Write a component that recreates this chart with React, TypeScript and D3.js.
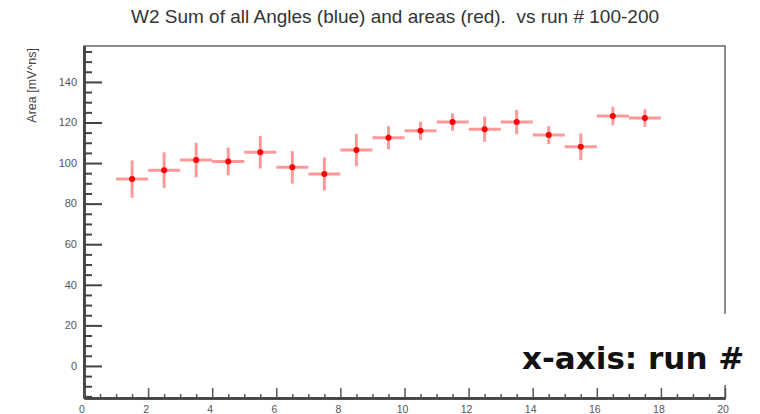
import React, { useEffect, useRef } from "react";
import * as d3 from "d3";

// bin centres (run # bins) and the measured areas with their errors
const runs = [1.5, 2.5, 3.5, 4.5, 5.5, 6.5, 7.5, 8.5, 9.5, 10.5, 11.5, 12.5, 13.5, 14.5, 15.5, 16.5, 17.5];
const areas = [92.1, 96.5, 101.5, 100.8, 105.3, 97.9, 94.6, 106.4, 112.5, 115.9, 120.2, 116.7, 120.2, 113.8, 108.0, 123.2, 122.2];
const areaErrors = [9.2, 8.8, 8.5, 6.8, 8.0, 8.0, 8.2, 8.0, 5.7, 4.5, 4.3, 6.2, 6.0, 4.4, 6.6, 4.6, 4.3];
const binHalfWidth = [0.5, 0.5, 0.5, 0.5, 0.5, 0.5, 0.5, 0.5, 0.5, 0.5, 0.5, 0.5, 0.5, 0.5, 0.5, 0.5, 0.5];

const xMajorTicks = [0, 2, 4, 6, 8, 10, 12, 14, 16, 18, 20];
const yMajorTicks = [0, 20, 40, 60, 80, 100, 120, 140];

const title = "W2 Sum of all Angles (blue) and areas (red).  vs run # 100-200";
const yTitle = "Area [mV^ns]";
const note = "x-axis: run #";

export default function App() {
  const svgRef = useRef<SVGSVGElement>(null);

  useEffect(() => {
    const width = 760;
    const height = 414;
    const frame = { left: 84, right: 725, top: 46, bottom: 398 };

    const svg = d3.select(svgRef.current);
    svg.selectAll("*").remove();

    const xScale = d3.scaleLinear().domain([0, 20]).range([frame.left, frame.right]);
    const yScale = d3.scaleLinear().domain([-15.8, 157.7]).range([frame.bottom, frame.top]);

    svg.append("rect").attr("width", width).attr("height", height).attr("fill", "white");

    // title
    svg
      .append("text")
      .attr("x", 395)
      .attr("y", 23)
      .attr("text-anchor", "middle")
      .style("white-space", "pre")
      .attr("font-family", "Liberation Sans, Arial, sans-serif")
      .attr("font-size", 19)
      .attr("fill", "#333")
      .text(title);

    // frame (top and right borders)
    svg
      .append("rect")
      .attr("x", frame.left)
      .attr("y", frame.top)
      .attr("width", frame.right - frame.left)
      .attr("height", frame.bottom - frame.top)
      .attr("fill", "none")
      .attr("stroke", "#666")
      .attr("stroke-width", 1.5);

    // y axis with ticks pointing into the frame
    const yMinor = d3.range(-15, 156, 5).filter((v) => v % 20 !== 0);
    const yAxis = d3
      .axisRight(yScale)
      .tickValues(yMajorTicks)
      .tickSize(18)
      .tickSizeOuter(0)
      .tickFormat(() => "");
    const yMinorAxis = d3
      .axisRight(yScale)
      .tickValues(yMinor)
      .tickSize(8)
      .tickSizeOuter(0)
      .tickFormat(() => "");
    const yG = svg.append("g").attr("transform", `translate(${frame.left},0)`);
    yAxis(yG);
    const yMinG = svg.append("g").attr("transform", `translate(${frame.left},0)`);
    yMinorAxis(yMinG);
    [yG, yMinG].forEach((g) => {
      g.select(".domain").attr("stroke", "#444").attr("stroke-width", 2.5);
      g.selectAll(".tick line").attr("stroke", "#444").attr("stroke-width", 2);
    });

    svg
      .append("g")
      .selectAll("text")
      .data(yMajorTicks)
      .enter()
      .append("text")
      .attr("x", 77)
      .attr("y", (d) => yScale(d))
      .attr("dy", "0.35em")
      .attr("text-anchor", "end")
      .attr("font-family", "Liberation Sans, Arial, sans-serif")
      .attr("font-size", 11)
      .attr("fill", "#555")
      .text((d) => d);

    // x axis with ticks pointing up
    const xMinor = d3.range(0.5, 20, 0.5).filter((v) => v % 2 !== 0);
    const xAxis = d3
      .axisTop(xScale)
      .tickValues(xMajorTicks)
      .tickSize(10)
      .tickSizeOuter(0)
      .tickFormat(() => "");
    const xMinorAxis = d3
      .axisTop(xScale)
      .tickValues(xMinor)
      .tickSize(4)
      .tickSizeOuter(0)
      .tickFormat(() => "");
    const xG = svg.append("g").attr("transform", `translate(0,${frame.bottom})`);
    xAxis(xG);
    const xMinG = svg.append("g").attr("transform", `translate(0,${frame.bottom})`);
    xMinorAxis(xMinG);
    [xG, xMinG].forEach((g) => {
      g.select(".domain").attr("stroke", "#444").attr("stroke-width", 2.5);
      g.selectAll(".tick line").attr("stroke", "#555").attr("stroke-width", 1.5);
    });

    svg
      .append("g")
      .selectAll("text")
      .data(xMajorTicks)
      .enter()
      .append("text")
      .attr("x", (d) => xScale(d) - 2)
      .attr("y", 413)
      .attr("text-anchor", "middle")
      .attr("font-family", "Liberation Sans, Arial, sans-serif")
      .attr("font-size", 10.5)
      .attr("fill", "#555")
      .text((d) => d);

    // y title
    svg
      .append("text")
      .attr("transform", `translate(36,48) rotate(-90)`)
      .attr("text-anchor", "end")
      .attr("font-family", "Liberation Sans, Arial, sans-serif")
      .attr("font-size", 12.5)
      .attr("fill", "#444")
      .text(yTitle);

    // data points with error bars
    const pts = runs.map((r, i) => ({ x: r, y: areas[i], ey: areaErrors[i], ex: binHalfWidth[i] }));
    const marks = svg.append("g");
    marks
      .selectAll("line.ex")
      .data(pts)
      .enter()
      .append("line")
      .attr("x1", (d) => xScale(d.x - d.ex))
      .attr("x2", (d) => xScale(d.x + d.ex))
      .attr("y1", (d) => yScale(d.y))
      .attr("y2", (d) => yScale(d.y))
      .attr("stroke", "red")
      .attr("stroke-opacity", 0.4)
      .attr("stroke-width", 3);
    marks
      .selectAll("line.ey")
      .data(pts)
      .enter()
      .append("line")
      .attr("x1", (d) => xScale(d.x))
      .attr("x2", (d) => xScale(d.x))
      .attr("y1", (d) => yScale(d.y - d.ey))
      .attr("y2", (d) => yScale(d.y + d.ey))
      .attr("stroke", "red")
      .attr("stroke-opacity", 0.4)
      .attr("stroke-width", 3);
    marks
      .selectAll("circle")
      .data(pts)
      .enter()
      .append("circle")
      .attr("cx", (d) => xScale(d.x))
      .attr("cy", (d) => yScale(d.y))
      .attr("r", 3)
      .attr("fill", "red");

    // white label box pasted over the lower right corner
    svg
      .append("rect")
      .attr("x", 505)
      .attr("y", 314)
      .attr("width", 255)
      .attr("height", 71)
      .attr("fill", "white");
    svg
      .append("text")
      .attr("x", 522)
      .attr("y", 369)
      .attr("font-family", "DejaVu Sans, sans-serif")
      .attr("font-weight", "bold")
      .attr("font-size", 31)
      .attr("fill", "#111")
      .text(note);
  }, []);

  return (
    <svg
      ref={svgRef}
      width={760}
      height={414}
      style={{ position: "absolute", left: 0, top: 0 }}
    ></svg>
  );
}
